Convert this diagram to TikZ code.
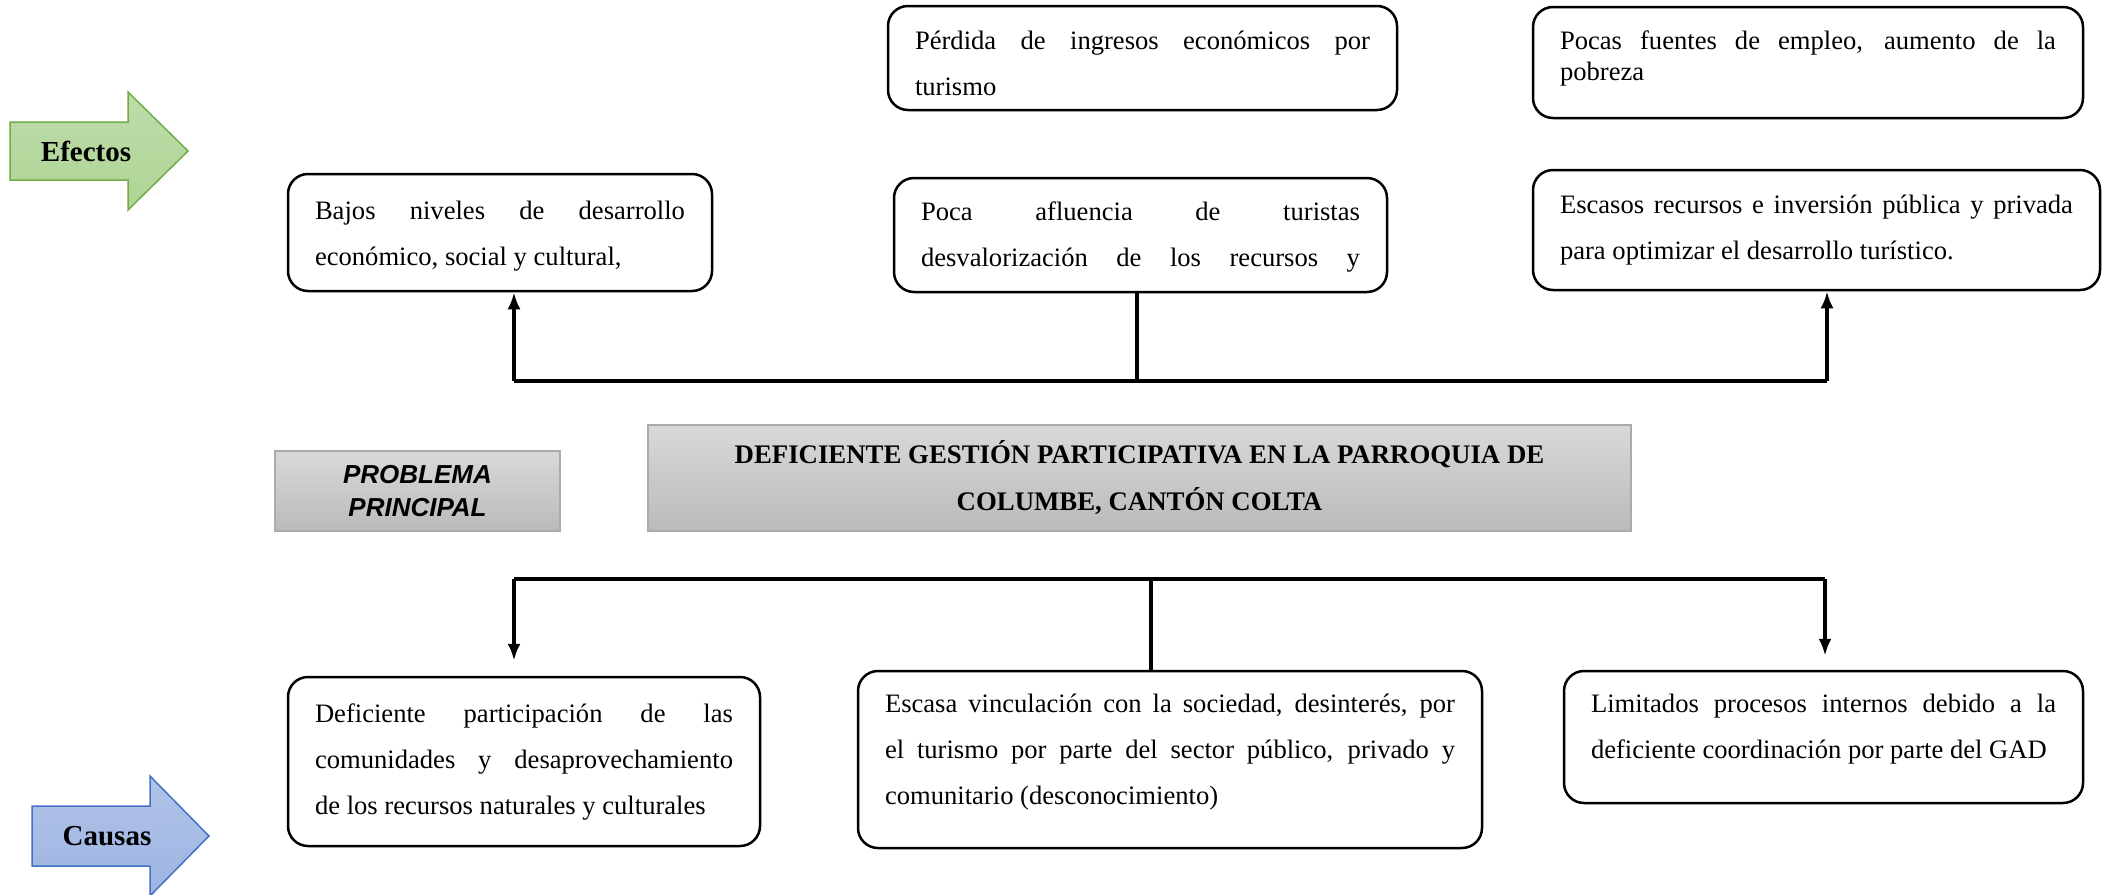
\documentclass[tikz,border=0pt]{standalone}
\usepackage{fontspec}
\setmainfont{Liberation Serif}
\newfontfamily\arialfont{Liberation Sans}
\usetikzlibrary{arrows.meta}
\tolerance=10000
\hbadness=10000
\hyphenpenalty=10000
\definecolor{efverde}{HTML}{AED495}
\definecolor{efverdeb}{HTML}{70AD47}
\definecolor{caazul}{HTML}{9DB4E2}
\definecolor{caazulb}{HTML}{4472C4}
\tikzstyle{conn}=[draw=black, line width=3.5pt]
\tikzstyle{flecha}=[conn, -{Latex[length=17pt,width=13pt]}]
\tikzstyle{caja}=[draw=black, line width=2.5pt, rounded corners=20pt, align=justify, inner xsep=27pt, inner ysep=0pt, font=\fontsize{26.6}{46}\selectfont]
\tikzstyle{gris}=[draw=black!33, line width=1.5pt, top color=black!15, bottom color=black!27, inner sep=0pt]

\begin{document}
\begin{tikzpicture}[x=1pt, y=-1pt]
	\useasboundingbox (0,0) rectangle (2103,894);
	% flechas laterales
	\begin{scope}
		\path[draw=efverdeb, line width=1.5pt, top color=efverde!80, bottom color=efverde] (10,122) -- (128,122) -- (128,92) -- (188,151) -- (128,210) -- (128,180) -- (10,180) -- cycle;
		\node (efectos) at (86,151)[font=\bfseries\fontsize{29}{29}\selectfont] {Efectos};
		\path[draw=caazulb, line width=1.5pt, top color=caazul!80, bottom color=caazul] (32,806) -- (150,806) -- (150,776) -- (209,836) -- (150,896) -- (150,866) -- (32,866) -- cycle;
		\node (causas) at (107,836)[font=\bfseries\fontsize{29}{29}\selectfont] {Causas};
	\end{scope}
	% efectos
	\begin{scope}
		\node (e1) at (500,232.5)[caja, text width=370pt, minimum height=117pt] {\rule{0pt}{25pt}Bajos niveles de desarrollo\linebreak económico, social y cultural,};
		\node (e2) at (1140.5,235)[caja, text width=439pt, minimum height=114pt] {\rule{0pt}{23pt}Poca afluencia de turistas\linebreak \makebox[439pt][s]{desvalorización de los recursos y}};
		\node (e3) at (1142.5,58)[caja, text width=455pt, minimum height=104pt] {\rule{0pt}{29pt}Pérdida de ingresos económicos por\linebreak turismo};
		\node (e4) at (1808,62.5)[caja, text width=496pt, minimum height=111pt, font=\fontsize{26.6}{31}\selectfont] {Pocas fuentes de empleo, aumento de la\linebreak pobreza\rule[-14pt]{0pt}{0pt}};
		\node (e5) at (1816.5,230)[caja, text width=513pt, minimum height=120pt] {Escasos recursos e inversión pública y privada\linebreak para optimizar el desarrollo turístico.};
	\end{scope}
	% problema
	\begin{scope}
		\node (prob) at (417.5,491)[gris, minimum width=285pt, minimum height=80pt, align=center, font=\arialfont\bfseries\itshape\fontsize{26}{33}\selectfont] {PROBLEMA\\PRINCIPAL};
		\node (titulo) at (1139.5,478)[gris, minimum width=983pt, minimum height=106pt, align=center, font=\bfseries\fontsize{26.8}{47}\selectfont] {DEFICIENTE GESTIÓN PARTICIPATIVA EN LA PARROQUIA DE\\COLUMBE, CANTÓN COLTA};
	\end{scope}
	% causas
	\begin{scope}
		\node (c1) at (524,761.5)[caja, text width=418pt, minimum height=169pt] {Deficiente participación de las\linebreak comunidades y desaprovechamiento\linebreak de los recursos naturales y culturales};
		\node (c2) at (1170,759.5)[caja, text width=570pt, minimum height=177pt] {Escasa vinculación con la sociedad, desinterés, por\linebreak el turismo por parte del sector público, privado y\linebreak comunitario (desconocimiento)\rule[-21pt]{0pt}{0pt}};
		\node (c3) at (1823.5,737)[caja, text width=465pt, minimum height=132pt] {Limitados procesos internos debido a la\linebreak deficiente coordinación por parte del GAD\rule[-22pt]{0pt}{0pt}};
	\end{scope}
	% conectores
	\begin{scope}
		\coordinate (tl) at (514,381);
		\coordinate (tm) at (1137,381);
		\coordinate (tr) at (1827,381);
		\path [conn] (tl) -- (tr);
		\path [conn] (e2.south -| tm) -- (tm);
		\path [flecha] (tl) -- (tl |- e1.south);
		\path [flecha] (tr) -- (tr |- e5.south);

		\coordinate (bl) at (514,579);
		\coordinate (bm) at (1151,579);
		\coordinate (br) at (1825,579);
		\path [conn] (bl) -- (br);
		\path [conn] (bm) -- (bm |- c2.north);
		\path [flecha, shorten >=15pt] (bl) -- (bl |- c1.north);
		\path [flecha, shorten >=14pt] (br) -- (br |- c3.north);
	\end{scope}
\end{tikzpicture}
\end{document}
